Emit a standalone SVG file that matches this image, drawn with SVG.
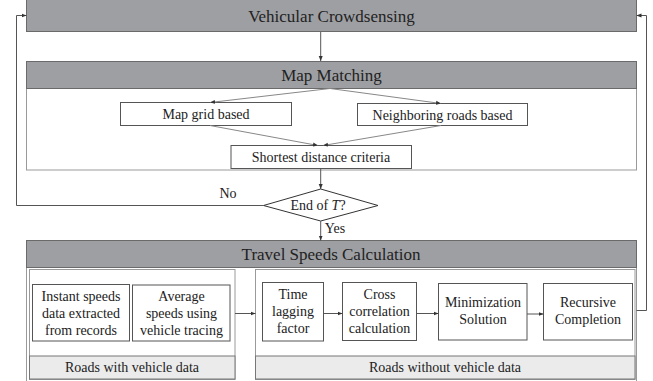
<svg xmlns="http://www.w3.org/2000/svg" width="653" height="381" viewBox="0 0 653 381" font-family="Liberation Serif">
<defs>
<marker id="ah" viewBox="0 0 10 10" refX="10" refY="5" markerWidth="5" markerHeight="5" orient="auto" markerUnits="userSpaceOnUse">
<path d="M0,1 L10,5 L0,9 Z" fill="#333"/>
</marker>
</defs>
<style>
text{fill:#222;text-anchor:middle}
.hdr{fill:#9e9fa3;stroke:#6a6a6a;stroke-width:1}
.ht{font-size:17px}
.cont{fill:#fff;stroke:#9a9a9a;stroke-width:1}
.box{fill:#fff;stroke:#555;stroke-width:1}
.bt{font-size:14px}
.band{fill:#ebebeb;stroke:#777;stroke-width:1}
.ln{fill:none;stroke:#555;stroke-width:1}
.lt{fill:none;stroke:#888;stroke-width:1}
</style>
<rect width="653" height="381" fill="#fff"/>

<g id="crowdsensing">
<rect class="hdr" x="26.5" y="-1" width="610" height="32.5"/>
<text class="ht" x="331.5" y="22" font-family="Liberation Serif">Vehicular Crowdsensing</text>
</g>

<g id="map-matching">
<rect class="cont" x="26.5" y="61.5" width="610" height="108.5"/>
<rect class="hdr" x="26.5" y="61.5" width="610" height="27"/>
<text class="ht" x="331.5" y="81" font-family="Liberation Serif">Map Matching</text>
</g>

<g id="map-grid">
<rect class="box" x="120.5" y="102.5" width="171" height="23"/>
<text class="bt" x="206" y="119" font-family="Liberation Serif">Map grid based</text>
</g>

<g id="neighboring">
<rect class="box" x="357.5" y="103.5" width="170" height="22"/>
<text class="bt" x="442.5" y="119.5" font-family="Liberation Serif">Neighboring roads based</text>
</g>

<g id="shortest">
<rect class="box" x="231" y="145.5" width="180.5" height="23"/>
<text class="bt" x="321" y="162" font-family="Liberation Serif">Shortest distance criteria</text>
</g>

<g id="decision">
<polygon points="320.7,189 378,205.5 320.7,221 263.5,205.5" fill="#fff" stroke="#333" stroke-width="1"/>
<text class="bt" x="318" y="210" font-family="Liberation Serif">End of <tspan font-style="italic">T</tspan>?</text>
</g>

<g id="travel-speeds">
<rect class="cont" x="26.5" y="240.5" width="610" height="145"/>
<rect class="hdr" x="26.5" y="240.5" width="610" height="27"/>
<text class="ht" x="331" y="260" font-family="Liberation Serif">Travel Speeds Calculation</text>
</g>

<g id="with-data">
<rect class="cont" x="29.5" y="269.5" width="205.5" height="110"/>
<rect class="band" x="29.5" y="356" width="205.5" height="23"/>
<text class="bt" x="132" y="372" font-family="Liberation Serif">Roads with vehicle data</text>
</g>

<g id="instant" font-family="Liberation Serif">
<rect class="box" x="32.5" y="284.5" width="97" height="56.5"/>
<text class="bt" x="81" y="301">Instant speeds</text>
<text class="bt" x="81" y="318">data extracted</text>
<text class="bt" x="81" y="334.5">from records</text>
</g>

<g id="average" font-family="Liberation Serif">
<rect class="box" x="132.5" y="285" width="97.5" height="56"/>
<text class="bt" x="181.5" y="301">Average</text>
<text class="bt" x="181.5" y="318">speeds using</text>
<text class="bt" x="181.5" y="334.5">vehicle tracing</text>
</g>

<g id="without-data">
<rect class="cont" x="255.5" y="269.5" width="379.5" height="110"/>
<rect class="band" x="255.5" y="356" width="379.5" height="23"/>
<text class="bt" x="445" y="372" font-family="Liberation Serif">Roads without vehicle data</text>
</g>

<g id="time-lagging" font-family="Liberation Serif">
<rect class="box" x="262.5" y="282.5" width="61" height="58.5"/>
<text class="bt" x="293" y="299">Time</text>
<text class="bt" x="293" y="316">lagging</text>
<text class="bt" x="293" y="332.5">factor</text>
</g>

<g id="cross-correlation" font-family="Liberation Serif">
<rect class="box" x="342.5" y="282.5" width="74" height="58"/>
<text class="bt" x="379.5" y="299">Cross</text>
<text class="bt" x="379.5" y="316">correlation</text>
<text class="bt" x="379.5" y="332.5">calculation</text>
</g>

<g id="minimization" font-family="Liberation Serif">
<rect class="box" x="438.5" y="283.5" width="88.5" height="56.5"/>
<text class="bt" x="483" y="307">Minimization</text>
<text class="bt" x="483" y="324">Solution</text>
</g>

<g id="recursive" font-family="Liberation Serif">
<rect class="box" x="543.5" y="283.5" width="89" height="56.5"/>
<text class="bt" x="588" y="307">Recursive</text>
<text class="bt" x="588" y="324">Completion</text>
</g>

<g id="labels" font-family="Liberation Serif">
<text class="bt" x="228" y="198">No</text>
<text class="bt" x="335" y="233">Yes</text>
</g>

<g id="connectors">
<line class="ln" x1="320.7" y1="32" x2="320.7" y2="61" marker-end="url(#ah)"/>
<line class="lt" x1="330" y1="88.5" x2="210" y2="102.5" marker-end="url(#ah)"/>
<line class="lt" x1="330" y1="88.5" x2="441" y2="103.5" marker-end="url(#ah)"/>
<line class="lt" x1="210" y1="125.5" x2="318" y2="145.5" marker-end="url(#ah)"/>
<line class="lt" x1="441" y1="125.5" x2="323" y2="145.5" marker-end="url(#ah)"/>
<line class="ln" x1="320.7" y1="168.5" x2="320.7" y2="189" marker-end="url(#ah)"/>
<line class="ln" x1="320.7" y1="221" x2="320.7" y2="240.5" marker-end="url(#ah)"/>
<polyline class="ln" points="263.5,205.5 16.5,205.5 16.5,15.5 26.5,15.5" marker-end="url(#ah)"/>
<polyline class="ln" points="636.5,310.5 646.5,310.5 646.5,15.5 636.5,15.5" marker-end="url(#ah)"/>
<line class="ln" x1="235" y1="313.5" x2="255.5" y2="313.5" marker-end="url(#ah)"/>
<line class="ln" x1="323.5" y1="313.5" x2="342.5" y2="313.5" marker-end="url(#ah)"/>
<line class="ln" x1="416.5" y1="313.5" x2="438.5" y2="313.5" marker-end="url(#ah)"/>
<line class="ln" x1="527" y1="314" x2="543.5" y2="314" marker-end="url(#ah)"/>
</g>
</svg>
